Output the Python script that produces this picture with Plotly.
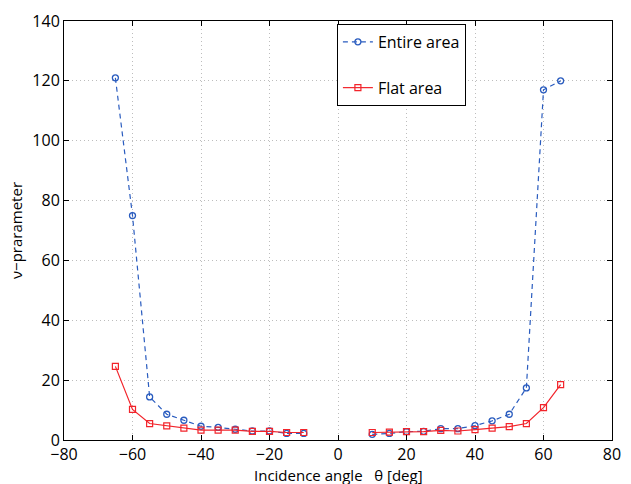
import plotly.graph_objects as go

# Incidence angles [deg] and nu-parameter estimates
angles = [-65, -60, -55, -50, -45, -40, -35, -30, -25, -20, -15, -10,
          10, 15, 20, 25, 30, 35, 40, 45, 50, 55, 60, 65]
entire_area = [121.0, 75.0, 14.4, 8.6, 6.6, 4.6, 4.2, 3.6, 3.0, 3.0, 2.2, 2.2,
               1.9, 2.2, 2.8, 2.9, 3.8, 3.8, 4.8, 6.4, 8.6, 17.4, 117.0, 120.0]
flat_area = [24.6, 10.2, 5.5, 4.7, 4.0, 3.3, 3.3, 3.3, 2.9, 2.9, 2.5, 2.5,
             2.5, 2.6, 2.8, 2.8, 3.2, 3.0, 3.5, 4.0, 4.5, 5.5, 10.8, 18.5]

x_ticks = [-80, -60, -40, -20, 0, 20, 40, 60, 80]
y_ticks = [0, 20, 40, 60, 80, 100, 120, 140]

# Split the two angle branches so no line joins -10 and +10
def branch(xs, ys):
    out_x, out_y = [], []
    for i, (a, v) in enumerate(zip(xs, ys)):
        if i > 0 and xs[i - 1] < 0 < a:
            out_x.append(None)
            out_y.append(None)
        out_x.append(a)
        out_y.append(v)
    return out_x, out_y

bx, by = branch(angles, entire_area)
rx, ry = branch(angles, flat_area)

blue = "#2a5cbf"
red = "#f2242b"
font = "Open Sans"

fig = go.Figure()
fig.add_trace(go.Scatter(
    x=bx, y=by, mode="lines+markers", name="Entire area", legendgroup="a",
    line=dict(color=blue, width=1.2, dash="5px,4px"),
    marker=dict(symbol="circle-open", size=6, color=blue, line=dict(width=1.3)),
))
fig.add_trace(go.Scatter(
    x=rx, y=ry, mode="lines+markers", name="Flat area", legendgroup="b",
    line=dict(color=red, width=1.2),
    marker=dict(symbol="square-open", size=6, color=red, line=dict(width=1.2)),
))

axis_common = dict(
    showline=True, linecolor="black", linewidth=1, mirror="ticks",
    ticks="inside", ticklen=5, tickcolor="black",
    showgrid=True, gridcolor="#bdbdbd", griddash="1px,3px", gridwidth=1,
    zeroline=False, tickfont=dict(family=font, size=16, color="black"),
)

fig.update_layout(
    width=631, height=484,
    margin=dict(l=64, r=10, t=15, b=44),
    paper_bgcolor="white", plot_bgcolor="white",
    font=dict(family=font, color="black"),
    xaxis=dict(range=[-80, 80], tickvals=x_ticks,
               ticktext=[str(v).replace("-", "\u2212") for v in x_ticks],
               **axis_common),
    yaxis=dict(range=[0, 140], tickvals=y_ticks,
               title=dict(text="\u03bd\u2212prarameter",
                          font=dict(family=font, size=15), standoff=6),
               **axis_common),
    legend=dict(
        x=0.498, y=0.993, xanchor="left", yanchor="top",
        bgcolor="white", bordercolor="black", borderwidth=1,
        font=dict(family=font, size=16), tracegroupgap=22,
        itemwidth=30,
    ),
    showlegend=True,
)

# x-axis title sits tight under the tick labels
fig.add_annotation(
    text="Incidence angle   \u03b8 [deg]", showarrow=False,
    xref="paper", yref="paper", x=0.5, y=-0.084,
    xanchor="center", yanchor="middle",
    font=dict(family=font, size=15, color="black"),
)

fig.write_html("out.html")
